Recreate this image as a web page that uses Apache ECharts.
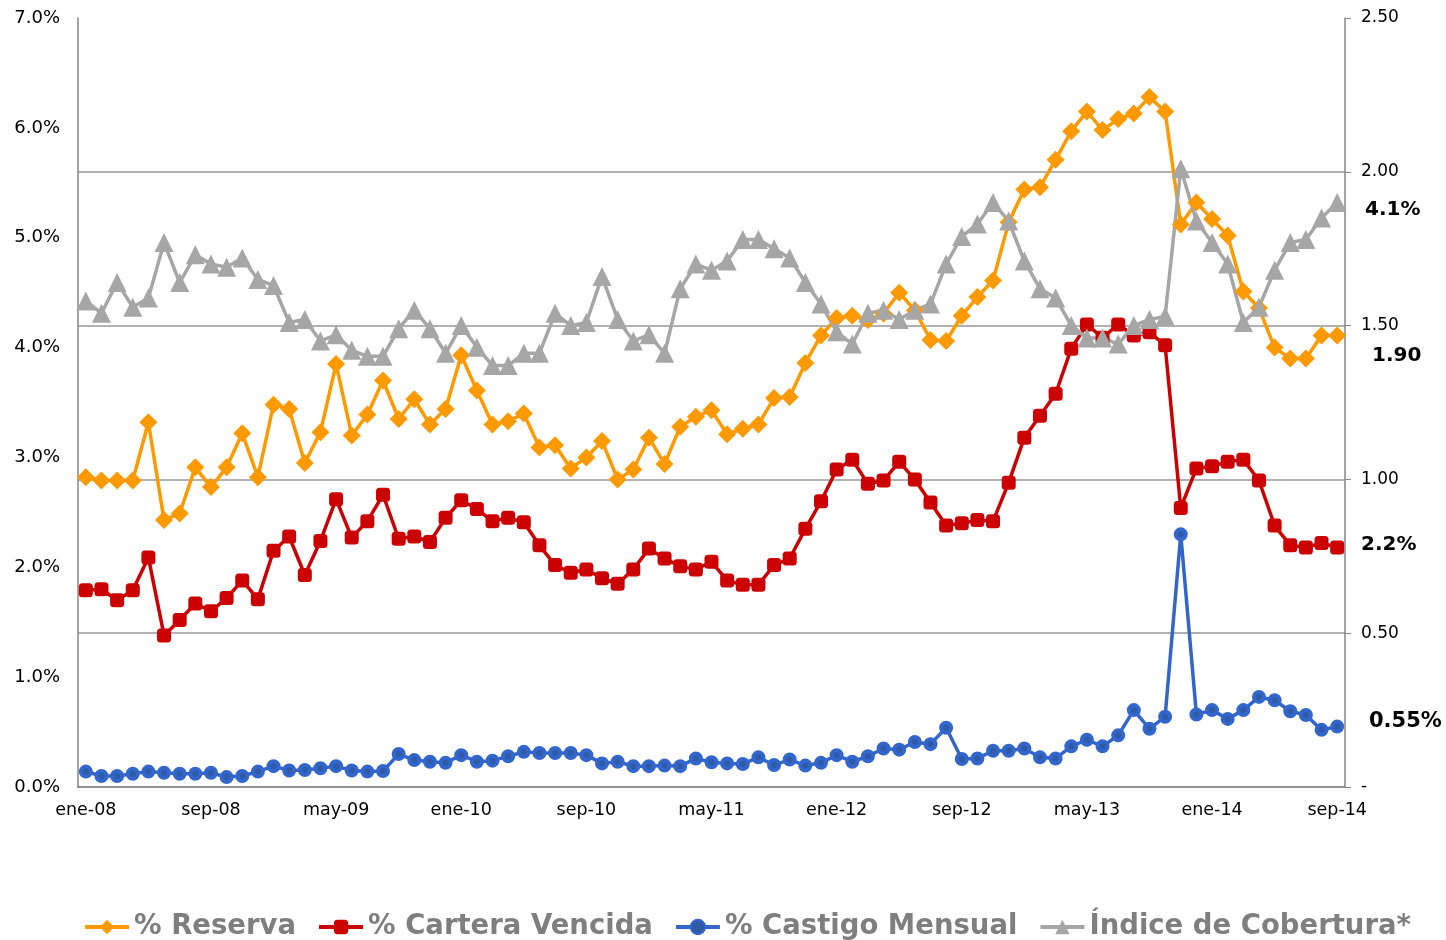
<!DOCTYPE html>
<html>
<head>
<meta charset="utf-8">
<script src="https://cdn.jsdelivr.net/npm/echarts@6/dist/echarts.min.js"></script>
<style>
    html, body { margin: 0; padding: 0; background: #fff; }
    #chart { width: 1446px; height: 940px; }
</style>
</head>
<body>
<div id="chart"></div>
<script>
var meses = ['ene', 'feb', 'mar', 'abr', 'may', 'jun', 'jul', 'ago', 'sep', 'oct', 'nov', 'dic'];
var anios = ['08', '09', '10', '11', '12', '13', '14'];

/* Monthly values, ene-08 .. sep-14 */
var reserva = [
    2.82, 2.79, 2.79, 2.79, 3.32, 2.43, 2.49, 2.91, 2.73, 2.91, 3.22, 2.82,
    3.48, 3.44, 2.95, 3.23, 3.85, 3.20, 3.39, 3.70, 3.35, 3.53, 3.30, 3.44,
    3.93, 3.61, 3.30, 3.33, 3.40, 3.09, 3.11, 2.90, 3.00, 3.15, 2.80, 2.89,
    3.18, 2.94, 3.28, 3.37, 3.43, 3.21, 3.26, 3.30, 3.54, 3.55, 3.86, 4.11,
    4.27, 4.29, 4.25, 4.31, 4.50, 4.34, 4.07, 4.06, 4.29, 4.46, 4.61, 5.14,
    5.44, 5.46, 5.71, 5.97, 6.15, 5.98, 6.08, 6.13, 6.28, 6.15, 5.12, 5.32,
    5.17, 5.02, 4.51, 4.36, 4.00, 3.90, 3.90, 4.11, 4.11
];
var carteraVencida = [
    1.79, 1.80, 1.70, 1.79, 2.09, 1.38, 1.52, 1.67, 1.60, 1.72, 1.88, 1.71,
    2.15, 2.28, 1.93, 2.24, 2.62, 2.27, 2.42, 2.66, 2.26, 2.28, 2.23, 2.45,
    2.61, 2.53, 2.42, 2.45, 2.41, 2.20, 2.02, 1.95, 1.98, 1.90, 1.85, 1.98,
    2.17, 2.08, 2.01, 1.98, 2.05, 1.88, 1.84, 1.84, 2.02, 2.08, 2.35, 2.60,
    2.89, 2.98, 2.76, 2.79, 2.96, 2.80, 2.59, 2.38, 2.40, 2.43, 2.42, 2.77,
    3.18, 3.38, 3.58, 3.99, 4.21, 4.09, 4.21, 4.11, 4.14, 4.02, 2.54, 2.90,
    2.92, 2.96, 2.98, 2.79, 2.38, 2.20, 2.18, 2.22, 2.18
];
var castigoMensual = [
    0.14, 0.10, 0.10, 0.12, 0.14, 0.13, 0.12, 0.12, 0.13, 0.09, 0.10, 0.14,
    0.19, 0.15, 0.155, 0.17, 0.19, 0.15, 0.14, 0.145, 0.30, 0.245, 0.23, 0.22,
    0.29, 0.23, 0.24, 0.28, 0.32, 0.31, 0.31, 0.31, 0.29, 0.215, 0.23, 0.19,
    0.19, 0.195, 0.19, 0.26, 0.225, 0.215, 0.21, 0.27, 0.20, 0.25, 0.195, 0.22,
    0.29, 0.23, 0.28, 0.35, 0.34, 0.41, 0.39, 0.54, 0.255, 0.26, 0.33, 0.33,
    0.35, 0.27, 0.26, 0.37, 0.43, 0.37, 0.47, 0.70, 0.53, 0.64, 2.30, 0.66,
    0.70, 0.62, 0.70, 0.82, 0.79, 0.69, 0.655, 0.52, 0.55
];
var indiceCobertura = [
    1.58, 1.54, 1.64, 1.56, 1.59, 1.77, 1.64, 1.73, 1.70, 1.69, 1.72, 1.65,
    1.63, 1.51, 1.52, 1.45, 1.47, 1.42, 1.40, 1.40, 1.49, 1.55, 1.49, 1.41,
    1.50, 1.43, 1.37, 1.37, 1.41, 1.41, 1.54, 1.50, 1.51, 1.66, 1.52, 1.45,
    1.47, 1.41, 1.62, 1.70, 1.68, 1.71, 1.78, 1.78, 1.75, 1.72, 1.64, 1.57,
    1.48, 1.44, 1.54, 1.55, 1.52, 1.55, 1.57, 1.70, 1.79, 1.83, 1.90, 1.84,
    1.71, 1.62, 1.59, 1.50, 1.46, 1.46, 1.44, 1.50, 1.52, 1.53, 2.01, 1.84,
    1.77, 1.70, 1.51, 1.56, 1.68, 1.77, 1.78, 1.85, 1.90
];

var nombresSeries = ['% Reserva', '% Cartera Vencida', '% Castigo Mensual', 'Índice de Cobertura*'];
var notasFinales = ['4.1%', '1.90', '2.2%', '0.55%'];

var categorias = [];
anios.forEach(function (a) {
    meses.forEach(function (m) {
        if (categorias.length < reserva.length) {
            categorias.push(m + '-' + a);
        }
    });
});

var chart = echarts.init(document.getElementById('chart'));
var fuente = 'DejaVu Sans, Verdana, sans-serif';

var option = {
    animation: false,
    textStyle: { fontFamily: fuente },
    grid: { left: 78, right: 101, top: 18, bottom: 153 },
    legend: {
        top: 913,
        left: 83,
        padding: 0,
        itemWidth: 44,
        itemHeight: 18,
        itemGap: 21,
        lineStyle: { width: 4 },
        textStyle: { fontSize: 27.5, fontWeight: 'bold', color: '#7f7f7f', fontFamily: fuente },
        data: nombresSeries
    },
    xAxis: {
        type: 'category',
        data: categorias,
        boundaryGap: true,
        axisLine: { lineStyle: { color: '#868686', width: 1.5 } },
        axisTick: { show: false },
        axisLabel: { interval: 7, color: '#000', fontSize: 17.5, margin: 14 }
    },
    yAxis: [
        {
            type: 'value',
            min: 0, max: 7, interval: 1,
            axisLine: { show: true, lineStyle: { color: '#868686', width: 1.5 } },
            axisTick: { show: false },
            splitLine: { show: false },
            axisLabel: {
                color: '#000', fontSize: 18, margin: 18,
                formatter: function (v) { return v.toFixed(1) + '%'; }
            }
        },
        {
            type: 'value',
            min: 0, max: 2.5, interval: 0.5,
            axisLine: { show: true, lineStyle: { color: '#868686', width: 1.5 } },
            axisTick: { show: true, length: 6, lineStyle: { color: '#868686' } },
            splitLine: {
                show: true,
                lineStyle: { color: ['#979797', '#979797', '#979797', '#979797', '#979797', 'rgba(0,0,0,0)'], width: 1.5 }
            },
            axisLabel: {
                color: '#000', fontSize: 17, margin: 16,
                formatter: function (v) { return v === 0 ? '-' : v.toFixed(2); }
            }
        }
    ],
    series: [
        {
            name: nombresSeries[0],
            type: 'line',
            data: reserva,
            yAxisIndex: 0,
            showAllSymbol: true,
            symbol: 'diamond',
            symbolSize: 18,
            color: '#FF9900',
            lineStyle: { width: 3.5 }
        },
        {
            name: nombresSeries[1],
            type: 'line',
            data: carteraVencida,
            yAxisIndex: 0,
            showAllSymbol: true,
            symbol: 'roundRect',
            symbolSize: 14,
            color: '#CC0000',
            lineStyle: { width: 3.5 }
        },
        {
            name: nombresSeries[2],
            type: 'line',
            data: castigoMensual,
            yAxisIndex: 0,
            showAllSymbol: true,
            symbol: 'circle',
            symbolSize: 10,
            color: '#3366CC',
            itemStyle: { color: '#2E5AA6', borderColor: '#3366CC', borderWidth: 4 },
            lineStyle: { width: 3.5, color: '#3366CC' }
        },
        {
            name: nombresSeries[3],
            type: 'line',
            data: indiceCobertura,
            yAxisIndex: 1,
            showAllSymbol: true,
            symbol: 'triangle',
            symbolSize: 19,
            color: '#A6A6A6',
            lineStyle: { width: 3.5 }
        }
    ],
    graphic: [
        { type: 'text', left: 1365, top: 200, style: { text: notasFinales[0], font: 'bold 20px ' + fuente, fill: '#000' } },
        { type: 'text', left: 1372, top: 346, style: { text: notasFinales[1], font: 'bold 20px ' + fuente, fill: '#000' } },
        { type: 'text', left: 1361, top: 535, style: { text: notasFinales[2], font: 'bold 20px ' + fuente, fill: '#000' } },
        { type: 'text', left: 1369, top: 711, style: { text: notasFinales[3], font: 'bold 21px ' + fuente, fill: '#000' } }
    ]
};
chart.setOption(option);

window.addEventListener('resize', function () {
    chart.resize();
});
</script>
</body>
</html>
